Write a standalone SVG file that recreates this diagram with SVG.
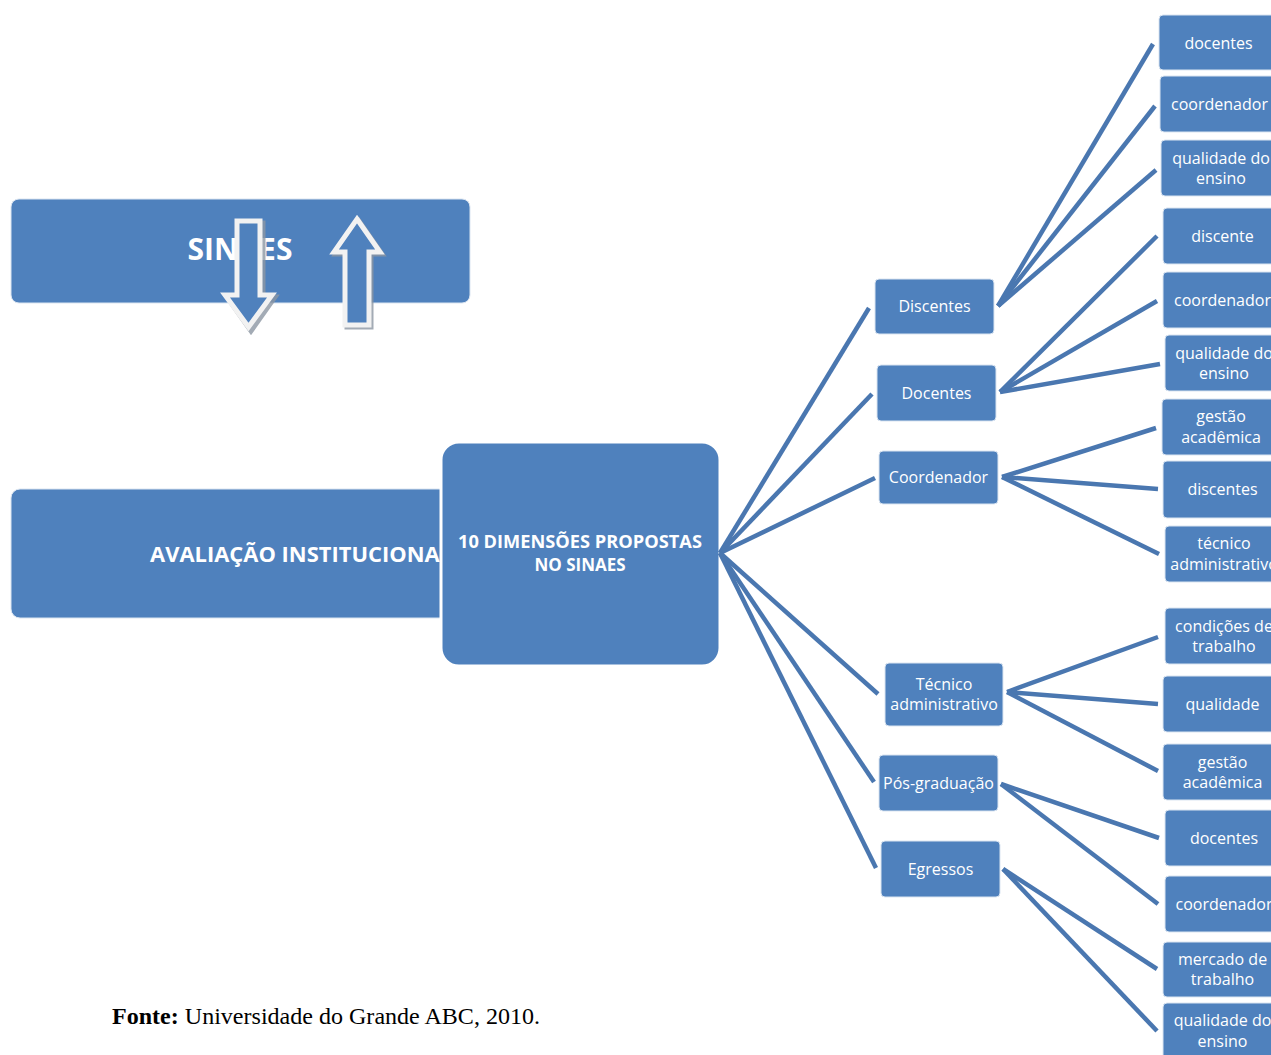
<svg xmlns="http://www.w3.org/2000/svg" width="1271" height="1055" viewBox="0 0 1271 1055">
<style>
.box{fill:#4F81BD;stroke:#dbe5f1;stroke-width:1}
.t{font-family:"Open Sans","Liberation Sans",sans-serif;font-size:16px;fill:#fff;text-anchor:middle}
.b{font-family:"Open Sans","Liberation Sans",sans-serif;font-weight:bold;fill:#fff;text-anchor:middle}
.c line{stroke:#4A77B0;stroke-width:4.5;stroke-linecap:butt}
.arrow{fill:#4F81BD;stroke:#f2f2f2;stroke-width:5;stroke-linejoin:miter}
.shadow{fill:none;stroke:#8c96a3;stroke-width:5;opacity:0.8}
</style>
<rect width="1271" height="1055" fill="#fff"/>

<g id="sinaes">
<rect x="11" y="199" width="459" height="104" rx="8" class="box"/>
<text x="240" y="260" class="b" font-size="30">SINAES</text>
</g>
<g id="arrow-down">
<path class="shadow" d="M240,223 L263,223 L263,297 L275,297 L251,331 L227,297 L240,297 Z"/>
<path class="arrow" d="M237,221 L260,221 L260,295 L272,295 L248.5,327 L225,295 L237,295 Z"/>
</g>
<g id="arrow-up">
<path class="shadow" d="M359,221 L382,254 L371,254 L371,327 L347,327 L347,254 L336,254 Z"/>
<path class="arrow" d="M357,219 L380,252 L369,252 L369,325 L345,325 L345,252 L334,252 Z"/>
</g>

<g id="avaliacao">
<rect x="11" y="489" width="480" height="129" rx="9" class="box"/>
<text x="150" y="562" font-family="'Open Sans','Liberation Sans',sans-serif" font-weight="bold" font-size="21" fill="#fff" textLength="302" lengthAdjust="spacingAndGlyphs">AVALIAÇÃO INSTITUCIONAL</text>
</g>

<g id="dimensoes">
<rect x="441" y="442" width="279" height="224" rx="18" fill="#4F81BD" stroke="#fff" stroke-width="3"/>
<text x="580" y="548" class="b" font-size="17" textLength="244" lengthAdjust="spacingAndGlyphs">10 DIMENSÕES PROPOSTAS</text>
<text x="580" y="571" class="b" font-size="17">NO SINAES</text>
</g>

<g class="c" id="connectors">
<line x1="720" y1="553" x2="869" y2="308"/>
<line x1="720" y1="553" x2="872" y2="394"/>
<line x1="720" y1="553" x2="875" y2="478"/>
<line x1="720" y1="553" x2="878" y2="694"/>
<line x1="720" y1="553" x2="874" y2="782"/>
<line x1="720" y1="553" x2="876" y2="868"/>
<line x1="998" y1="306" x2="1153" y2="44"/>
<line x1="998" y1="306" x2="1155" y2="106"/>
<line x1="998" y1="306" x2="1156" y2="170"/>
<line x1="1000" y1="392" x2="1157" y2="236"/>
<line x1="1000" y1="392" x2="1157" y2="301"/>
<line x1="1000" y1="392" x2="1160" y2="364"/>
<line x1="1002" y1="477" x2="1156" y2="428"/>
<line x1="1002" y1="477" x2="1158" y2="489"/>
<line x1="1002" y1="477" x2="1159" y2="554"/>
<line x1="1007" y1="692" x2="1158" y2="637"/>
<line x1="1007" y1="692" x2="1158" y2="704"/>
<line x1="1007" y1="692" x2="1158" y2="771"/>
<line x1="1001" y1="784" x2="1159" y2="838"/>
<line x1="1001" y1="784" x2="1158" y2="904"/>
<line x1="1003" y1="869" x2="1157" y2="969"/>
<line x1="1003" y1="869" x2="1157" y2="1031"/>
</g>

<g id="discentes"><rect x="875" y="279" width="119" height="55" rx="4" class="box"/><text x="934.5" y="312" class="t">Discentes</text></g>
<g id="docentes"><rect x="877" y="365" width="119" height="56" rx="4" class="box"/><text x="936.5" y="399" class="t">Docentes</text></g>
<g id="coordenador"><rect x="879" y="451" width="119" height="53" rx="4" class="box"/><text x="938.5" y="483" class="t">Coordenador</text></g>
<g id="tecnico"><rect x="885" y="663" width="118" height="63" rx="4" class="box"/><text x="944" y="690" class="t">Técnico</text><text x="944" y="710" class="t">administrativo</text></g>
<g id="posgraduacao"><rect x="879" y="755" width="119" height="56" rx="4" class="box"/><text x="938.5" y="789" class="t">Pós-graduação</text></g>
<g id="egressos"><rect x="881" y="841" width="119" height="56" rx="4" class="box"/><text x="940.5" y="875" class="t">Egressos</text></g>

<g id="r1"><rect x="1159" y="15" width="119" height="55" rx="4" class="box"/><text x="1218.5" y="49" class="t">docentes</text></g>
<g id="r2"><rect x="1160" y="76" width="119" height="56" rx="4" class="box"/><text x="1219.5" y="110" class="t">coordenador</text></g>
<g id="r3"><rect x="1161" y="140" width="119" height="56" rx="4" class="box"/><text x="1221" y="164" class="t">qualidade do</text><text x="1221" y="184" class="t">ensino</text></g>
<g id="r4"><rect x="1163" y="208" width="119" height="56" rx="4" class="box"/><text x="1222.5" y="242" class="t">discente</text></g>
<g id="r5"><rect x="1163" y="272" width="119" height="56" rx="4" class="box"/><text x="1222.5" y="306" class="t">coordenador</text></g>
<g id="r6"><rect x="1165" y="335" width="119" height="56" rx="4" class="box"/><text x="1224" y="359" class="t">qualidade do</text><text x="1224" y="379" class="t">ensino</text></g>
<g id="r7"><rect x="1162" y="399" width="119" height="56" rx="4" class="box"/><text x="1221" y="422" class="t">gestão</text><text x="1221" y="443" class="t">acadêmica</text></g>
<g id="r8"><rect x="1163" y="461" width="119" height="57" rx="4" class="box"/><text x="1222.5" y="495" class="t">discentes</text></g>
<g id="r9"><rect x="1165" y="526" width="119" height="56" rx="4" class="box"/><text x="1224" y="549" class="t">técnico</text><text x="1224" y="570" class="t">administrativo</text></g>
<g id="r10"><rect x="1165" y="608" width="119" height="56" rx="4" class="box"/><text x="1224" y="632" class="t">condições de</text><text x="1224" y="652" class="t">trabalho</text></g>
<g id="r11"><rect x="1163" y="676" width="119" height="56" rx="4" class="box"/><text x="1222.5" y="710" class="t">qualidade</text></g>
<g id="r12"><rect x="1163" y="744" width="119" height="56" rx="4" class="box"/><text x="1222.5" y="768" class="t">gestão</text><text x="1222.5" y="788" class="t">acadêmica</text></g>
<g id="r13"><rect x="1165" y="810" width="119" height="56" rx="4" class="box"/><text x="1224" y="844" class="t">docentes</text></g>
<g id="r14"><rect x="1165" y="876" width="119" height="56" rx="4" class="box"/><text x="1224" y="910" class="t">coordenador</text></g>
<g id="r15"><rect x="1163" y="942" width="119" height="55" rx="4" class="box"/><text x="1222.5" y="965" class="t">mercado de</text><text x="1222.5" y="985" class="t">trabalho</text></g>
<g id="r16"><rect x="1163" y="1003" width="119" height="60" rx="4" class="box"/><text x="1222.5" y="1026" class="t">qualidade do</text><text x="1222.5" y="1047" class="t">ensino</text></g>

<text x="112" y="1024" font-family="'Liberation Serif',serif" font-size="23" fill="#000" textLength="428" lengthAdjust="spacingAndGlyphs"><tspan font-weight="bold">Fonte:</tspan> Universidade do Grande ABC, 2010.</text>
</svg>
